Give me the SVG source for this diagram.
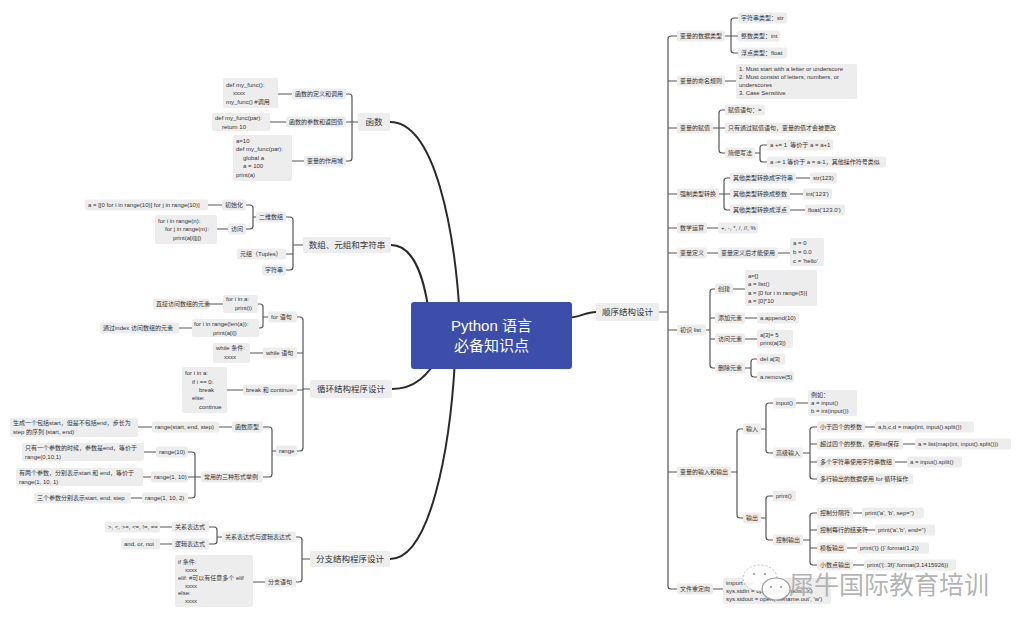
<svg xmlns="http://www.w3.org/2000/svg" width="1024" height="630" viewBox="0 0 1024 630">
<style>
.c{fill:none;stroke:#555;stroke-width:1.2;stroke-linecap:round}
.m{fill:none;stroke:#2a2a2a;stroke-width:2;stroke-linecap:round}
.b{fill:#ededed}
.t{font-family:"Liberation Sans","Noto Sans CJK SC",sans-serif;font-size:6px;fill:#333}
.h{font-family:"Noto Sans CJK SC","Liberation Sans",sans-serif;font-size:8.5px;fill:#333;text-anchor:middle}
.w{font-family:"Noto Sans CJK SC",sans-serif;font-size:25px;fill:#a6a6a6;fill-opacity:0.85}
</style>
<rect width="1024" height="630" fill="#fff"/>
<g id="connectors">
<path class="m" d="M390,122C435,122 455,230 460,320"/>
<path class="m" d="M391,245C415,245 425,280 430,320"/>
<path class="m" d="M392,389C415,389 428,375 440,355"/>
<path class="m" d="M390,559C430,559 450,450 455,360"/>
<path class="m" d="M565,318C580,318 585,312 596,312"/>
<path class="c" d="M358,122H352M346,94H349Q352,94 352,97V158Q352,161 349,161H346M346,122H352M278,94H292M270,122H286M292,161H304"/>
<path class="c" d="M303,245H293M286,217H290Q293,217 293,220V267Q293,270 290,270H286M286,254H293M256,217H253M246,205H250Q253,205 253,208V226Q253,229 250,229H246M208,205H222M217,229H228"/>
<path class="c" d="M310,389H303M297,317H300Q303,317 303,320V448Q303,451 300,451H297M297,353H303M297,390H303M268,317H263M258,304H260Q263,304 263,307V325Q263,328 260,328H259M209,304H223M179,328H192M250,353H263M227,390H243M276,451H272M263,427H269Q272,427 272,430V474Q272,477 269,477H263M219,427H232M138,427H152M201,477H188M188,452H192Q195,452 195,455V495Q195,498 192,498H188M144,452H156M143,477H151M131,498H142"/>
<path class="c" d="M310,559H302M296,537H299Q302,537 302,540V579Q302,582 299,582H296M222,537H217M209,527H214Q217,527 217,530V541Q217,544 214,544H209M160,527H172M160,544H172M253,582H265"/>
<path class="c" d="M659,312H668M677,36H671Q668,36 668,39V586Q668,589 671,589H677M668,81H677M668,128H677M668,194H677M668,228H677M668,253H677M668,330H677M668,472H677"/>
<path class="c" d="M725,36H738M738,18H734Q731,18 731,21V50Q731,53 734,53H738M725,81H736"/>
<path class="c" d="M713,128H725M725,110H722Q719,110 719,113V150Q719,153 722,153H725M755,153H760M767,145H763Q760,145 760,148V159Q760,162 763,162H767"/>
<path class="c" d="M719,194H730M730,178H727Q724,178 724,181V207Q724,210 727,210H730M796,178H810M790,194H803M790,210H805M707,228H718M707,253H718M778,253H790"/>
<path class="c" d="M706,330H710M715,289H713Q710,289 710,292V365Q710,368 713,368H715M710,318H715M710,339H715M733,289H745M745,318H757M745,339H757M745,368H751M757,359H754Q751,359 751,362V374Q751,377 754,377H757"/>
<path class="c" d="M731,472H737M743,429H740Q737,429 737,432V515Q737,518 740,518H743M761,429H766M773,403H769Q766,403 766,406V450Q766,453 769,453H773M796,403H808M803,453H810M817,427H813Q810,427 810,430V476Q810,479 813,479H817M810,444H817M810,462H817M865,427H875M903,444H915M895,462H907"/>
<path class="c" d="M761,518H766M773,496H769Q766,496 766,499V537Q766,540 769,540H773M803,540H810M817,513H813Q810,513 810,516V562Q810,565 813,565H817M810,530H817M810,548H817M853,513H862M865,530H875M847,548H857M853,565H864M713,589H723"/>
</g>
<g id="center"><rect x="411" y="302" width="161" height="67" rx="3" fill="#3d4eaa"/><text x="491.5" y="331" font-family="Liberation Sans,Noto Sans CJK SC,sans-serif" font-size="15" fill="#fff" text-anchor="middle">Python 语言</text><text x="491.5" y="351" font-family="Noto Sans CJK SC,sans-serif" font-size="15" fill="#fff" text-anchor="middle">必备知识点</text></g>
<g id="hanshu"><rect class="b" x="358" y="113" width="32" height="18" rx="2"/><text class="h" x="374" y="125">函数</text></g>
<g id="hs1"><rect class="b" x="292" y="88.5" width="54" height="11" rx="2"/><text class="t" x="295" y="96.1">函数的定义和调用</text></g>
<g id="hs1c"><rect class="b" x="223" y="78" width="55" height="30" rx="2"/><text class="t" x="226" y="87">def my_func():</text><text class="t" x="233" y="95">xxxx</text><text class="t" x="226" y="104">my_func()  #调用</text></g>
<g id="hs2"><rect class="b" x="286" y="116.5" width="60" height="11" rx="2"/><text class="t" x="289" y="124.1">函数的参数和返回值</text></g>
<g id="hs2c"><rect class="b" x="212" y="113" width="58" height="18" rx="2"/><text class="t" x="215" y="120">def my_func(par):</text><text class="t" x="222" y="129">return 10</text></g>
<g id="hs3"><rect class="b" x="304" y="155.5" width="42" height="11" rx="2"/><text class="t" x="307" y="163.1">变量的作用域</text></g>
<g id="hs3c"><rect class="b" x="233" y="135" width="59" height="46" rx="2"/><text class="t" x="236" y="143">a=10</text><text class="t" x="236" y="151">def my_func(par):</text><text class="t" x="243" y="160">global a</text><text class="t" x="243" y="168">a = 100</text><text class="t" x="236" y="177">print(a)</text></g>
<g id="shuzu"><rect class="b" x="303" y="237" width="88" height="16" rx="2"/><text class="h" x="347" y="248">数组、元组和字符串</text></g>
<g id="sz1"><rect class="b" x="256" y="211.5" width="30" height="11" rx="2"/><text class="t" x="259" y="219.1">二维数组</text></g>
<g id="sz1a"><rect class="b" x="222" y="199.5" width="24" height="11" rx="2"/><text class="t" x="225" y="207.1">初始化</text></g>
<g id="sz1ac"><rect class="b" x="85" y="199.5" width="123" height="11" rx="2"/><text class="t" x="88" y="207.1">a = [[0 for i in range(10)] for j in range(10)]</text></g>
<g id="sz1b"><rect class="b" x="228" y="223.5" width="18" height="11" rx="2"/><text class="t" x="231" y="231.1">访问</text></g>
<g id="sz1bc"><rect class="b" x="155" y="215" width="62" height="29" rx="2"/><text class="t" x="158" y="223">for i in range(n):</text><text class="t" x="165" y="231">for j in range(m):</text><text class="t" x="173" y="240">print(a[i][j])</text></g>
<g id="sz2"><rect class="b" x="237" y="248.5" width="49" height="11" rx="2"/><text class="t" x="240" y="256.1">元组（Tuples）</text></g>
<g id="sz3"><rect class="b" x="262" y="264.5" width="24" height="11" rx="2"/><text class="t" x="265" y="272.1">字符串</text></g>
<g id="xunhuan"><rect class="b" x="310" y="380" width="82" height="18" rx="2"/><text class="h" x="351" y="392">循环结构程序设计</text></g>
<g id="xh1"><rect class="b" x="268" y="311.5" width="29" height="11" rx="2"/><text class="t" x="271" y="319.1">for 语句</text></g>
<g id="xh1a"><rect class="b" x="223" y="295" width="35" height="18" rx="2"/><text class="t" x="226" y="301">for i in a:</text><text class="t" x="235" y="310">print(i)</text></g>
<g id="xh1at"><rect class="b" x="153" y="298.5" width="56" height="11" rx="2"/><text class="t" x="156" y="306.1">直接访问数组的元素</text></g>
<g id="xh1b"><rect class="b" x="192" y="319" width="67" height="18" rx="2"/><text class="t" x="194" y="326">for i in range(len(a)):</text><text class="t" x="213" y="335">print(a[i])</text></g>
<g id="xh1bt"><rect class="b" x="100" y="322.5" width="79" height="11" rx="2"/><text class="t" x="103" y="330.1">通过index 访问数组的元素</text></g>
<g id="xh2"><rect class="b" x="263" y="347.5" width="34" height="11" rx="2"/><text class="t" x="266" y="355.1">while 语句</text></g>
<g id="xh2c"><rect class="b" x="213" y="343" width="37" height="20" rx="2"/><text class="t" x="216" y="350">while 条件:</text><text class="t" x="224" y="359">xxxx</text></g>
<g id="xh3"><rect class="b" x="243" y="384.5" width="54" height="11" rx="2"/><text class="t" x="246" y="392.1">break 和 continue</text></g>
<g id="xh3c"><rect class="b" x="182" y="367" width="45" height="46" rx="2"/><text class="t" x="185" y="375">for i in a:</text><text class="t" x="192" y="384">if i == 0:</text><text class="t" x="199" y="392">break</text><text class="t" x="192" y="400">else:</text><text class="t" x="199" y="409">continue</text></g>
<g id="xh4"><rect class="b" x="276" y="445.5" width="21" height="11" rx="2"/><text class="t" x="279" y="453.1">range</text></g>
<g id="xh4a"><rect class="b" x="232" y="421.5" width="31" height="11" rx="2"/><text class="t" x="235" y="429.1">函数原型</text></g>
<g id="xh4ac"><rect class="b" x="152" y="421.5" width="67" height="11" rx="2"/><text class="t" x="155" y="429.1">range(start, end, step)</text></g>
<g id="xh4at"><rect class="b" x="10" y="418" width="128" height="19" rx="2"/><text class="t" x="13" y="425">生成一个包括start，但是不包括end，步长为</text><text class="t" x="13" y="434">step 的序列 [start, end)</text></g>
<g id="xh4b"><rect class="b" x="201" y="471.5" width="62" height="11" rx="2"/><text class="t" x="204" y="479.1">常用的三种形式举例</text></g>
<g id="xh4b1"><rect class="b" x="156" y="446.5" width="32" height="11" rx="2"/><text class="t" x="159" y="454.1">range(10)</text></g>
<g id="xh4b1t"><rect class="b" x="22" y="443" width="122" height="18" rx="2"/><text class="t" x="25" y="450">只有一个参数的时候，参数是end，等价于</text><text class="t" x="25" y="459">range(0,10,1)</text></g>
<g id="xh4b2"><rect class="b" x="151" y="471.5" width="37" height="11" rx="2"/><text class="t" x="154" y="479.1">range(1, 10)</text></g>
<g id="xh4b2t"><rect class="b" x="16" y="468" width="127" height="18" rx="2"/><text class="t" x="19" y="475">有两个参数，分别表示start 和 end，等价于</text><text class="t" x="19" y="484">range(1, 10, 1)</text></g>
<g id="xh4b3"><rect class="b" x="142" y="492.5" width="46" height="11" rx="2"/><text class="t" x="145" y="500.1">range(1, 10, 2)</text></g>
<g id="xh4b3t"><rect class="b" x="34" y="492.5" width="97" height="11" rx="2"/><text class="t" x="37" y="500.1">三个参数分别表示start, end, step</text></g>
<g id="fenzhi"><rect class="b" x="310" y="551" width="80" height="16" rx="2"/><text class="h" x="350" y="562">分支结构程序设计</text></g>
<g id="fz1"><rect class="b" x="222" y="531.5" width="74" height="11" rx="2"/><text class="t" x="225" y="539.1">关系表达式与逻辑表达式</text></g>
<g id="fz1a"><rect class="b" x="172" y="521.5" width="37" height="11" rx="2"/><text class="t" x="175" y="529.1">关系表达式</text></g>
<g id="fz1ac"><rect class="b" x="105" y="521.5" width="55" height="11" rx="2"/><text class="t" x="108" y="529.1">&gt;, &lt;, &gt;=, &lt;=, !=, ==</text></g>
<g id="fz1b"><rect class="b" x="172" y="538.5" width="37" height="11" rx="2"/><text class="t" x="175" y="546.1">逻辑表达式</text></g>
<g id="fz1bc"><rect class="b" x="121" y="538.5" width="39" height="11" rx="2"/><text class="t" x="124" y="546.1">and, or, not</text></g>
<g id="fz2"><rect class="b" x="265" y="576.5" width="31" height="11" rx="2"/><text class="t" x="268" y="584.1">分支语句</text></g>
<g id="fz2c"><rect class="b" x="175" y="555" width="78" height="52" rx="2"/><text class="t" x="178" y="564">if 条件:</text><text class="t" x="185" y="572">xxxx</text><text class="t" x="178" y="580">elif: #可以有任意多个 elif</text><text class="t" x="185" y="588">xxxx</text><text class="t" x="178" y="595">else:</text><text class="t" x="185" y="603">xxxx</text></g>
<g id="shunxu"><rect class="b" x="596" y="303" width="63" height="18" rx="2"/><text class="h" x="627.5" y="315">顺序结构设计</text></g>
<g id="sx1"><rect class="b" x="677" y="30.5" width="48" height="11" rx="2"/><text class="t" x="680" y="38.1">变量的数据类型</text></g>
<g id="sx1a"><rect class="b" x="738" y="12.5" width="49" height="11" rx="2"/><text class="t" x="741" y="20.1">字符串类型：str</text></g>
<g id="sx1b"><rect class="b" x="738" y="30.5" width="42" height="11" rx="2"/><text class="t" x="741" y="38.1">整数类型：int</text></g>
<g id="sx1c"><rect class="b" x="738" y="47.5" width="49" height="11" rx="2"/><text class="t" x="741" y="55.1">浮点类型：float</text></g>
<g id="sx2"><rect class="b" x="677" y="75.5" width="48" height="11" rx="2"/><text class="t" x="680" y="83.1">变量的命名规则</text></g>
<g id="sx2c"><rect class="b" x="736" y="64" width="121" height="35" rx="2"/><text class="t" x="739" y="71">1. Must start with a letter or underscore</text><text class="t" x="739" y="79">2. Must consist of letters, numbers, or</text><text class="t" x="739" y="87">underscores</text><text class="t" x="739" y="95">3. Case Sensitive</text></g>
<g id="sx3"><rect class="b" x="677" y="122.5" width="36" height="11" rx="2"/><text class="t" x="680" y="130.1">变量的赋值</text></g>
<g id="sx3a"><rect class="b" x="725" y="104.5" width="40" height="11" rx="2"/><text class="t" x="728" y="112.1">赋值语句：=</text></g>
<g id="sx3b"><rect class="b" x="725" y="122.5" width="108" height="11" rx="2"/><text class="t" x="728" y="130.1">只有通过赋值语句，变量的值才会被更改</text></g>
<g id="sx3c"><rect class="b" x="725" y="147.5" width="30" height="11" rx="2"/><text class="t" x="728" y="155.1">简便写法</text></g>
<g id="sx3c1"><rect class="b" x="767" y="139.5" width="66" height="11" rx="2"/><text class="t" x="770" y="147.1" xml:space="preserve">a += 1  等价于 a = a+1</text></g>
<g id="sx3c2"><rect class="b" x="767" y="156.5" width="119" height="11" rx="2"/><text class="t" x="770" y="164.1">a -= 1 等价于 a = a-1，其他操作符号类似</text></g>
<g id="sx4"><rect class="b" x="677" y="188.5" width="42" height="11" rx="2"/><text class="t" x="680" y="196.1">强制类型转换</text></g>
<g id="sx4a"><rect class="b" x="730" y="172.5" width="66" height="11" rx="2"/><text class="t" x="733" y="180.1">其他类型转换成字符串</text></g>
<g id="sx4ac"><rect class="b" x="810" y="172.5" width="27" height="11" rx="2"/><text class="t" x="813" y="180.1">str(123)</text></g>
<g id="sx4b"><rect class="b" x="730" y="188.5" width="60" height="11" rx="2"/><text class="t" x="733" y="196.1">其他类型转换成整数</text></g>
<g id="sx4bc"><rect class="b" x="803" y="188.5" width="29" height="11" rx="2"/><text class="t" x="806" y="196.1">int('123')</text></g>
<g id="sx4c"><rect class="b" x="730" y="204.5" width="60" height="11" rx="2"/><text class="t" x="733" y="212.1">其他类型转换成浮点</text></g>
<g id="sx4cc"><rect class="b" x="805" y="204.5" width="40" height="11" rx="2"/><text class="t" x="808" y="212.1">float('123.0')</text></g>
<g id="sx5"><rect class="b" x="677" y="222.5" width="30" height="11" rx="2"/><text class="t" x="680" y="230.1">数学运算</text></g>
<g id="sx5c"><rect class="b" x="718" y="222.5" width="40" height="11" rx="2"/><text class="t" x="721" y="230.1">+, -, *, /, //, %</text></g>
<g id="sx6"><rect class="b" x="677" y="247.5" width="30" height="11" rx="2"/><text class="t" x="680" y="255.1">变量定义</text></g>
<g id="sx6a"><rect class="b" x="718" y="247.5" width="60" height="11" rx="2"/><text class="t" x="721" y="255.1">变量定义后才能使用</text></g>
<g id="sx6c"><rect class="b" x="790" y="238" width="34" height="28" rx="2"/><text class="t" x="793" y="245">a = 0</text><text class="t" x="793" y="254">b = 0.0</text><text class="t" x="793" y="263">c = 'hello'</text></g>
<g id="sx7"><rect class="b" x="677" y="324.5" width="29" height="11" rx="2"/><text class="t" x="680" y="332.1">初识 list</text></g>
<g id="sx7a"><rect class="b" x="715" y="283.5" width="18" height="11" rx="2"/><text class="t" x="718" y="291.1">创建</text></g>
<g id="sx7ac"><rect class="b" x="745" y="270" width="72" height="36" rx="2"/><text class="t" x="748" y="278">a=[]</text><text class="t" x="748" y="286">a = list()</text><text class="t" x="748" y="295">a = [0 for i in range(5)]</text><text class="t" x="748" y="303">a = [0]*10</text></g>
<g id="sx7b"><rect class="b" x="715" y="312.5" width="30" height="11" rx="2"/><text class="t" x="718" y="320.1">添加元素</text></g>
<g id="sx7bc"><rect class="b" x="757" y="312.5" width="42" height="11" rx="2"/><text class="t" x="760" y="320.1">a.append(10)</text></g>
<g id="sx7c"><rect class="b" x="715" y="333.5" width="30" height="11" rx="2"/><text class="t" x="718" y="341.1">访问元素</text></g>
<g id="sx7cc"><rect class="b" x="757" y="330" width="36" height="18" rx="2"/><text class="t" x="760" y="337">a[3]= 5</text><text class="t" x="760" y="345">print(a[3])</text></g>
<g id="sx7d"><rect class="b" x="715" y="362.5" width="30" height="11" rx="2"/><text class="t" x="718" y="370.1">删除元素</text></g>
<g id="sx7d1"><rect class="b" x="757" y="353.5" width="28" height="11" rx="2"/><text class="t" x="760" y="361.1">del a[3]</text></g>
<g id="sx7d2"><rect class="b" x="757" y="371.5" width="37" height="11" rx="2"/><text class="t" x="760" y="379.1">a.remove(5)</text></g>
<g id="sx8"><rect class="b" x="677" y="466.5" width="54" height="11" rx="2"/><text class="t" x="680" y="474.1">变量的输入和输出</text></g>
<g id="sx8a"><rect class="b" x="743" y="423.5" width="18" height="11" rx="2"/><text class="t" x="746" y="431.1">输入</text></g>
<g id="sx8a1"><rect class="b" x="773" y="397.5" width="23" height="11" rx="2"/><text class="t" x="776" y="405.1">input()</text></g>
<g id="sx8a1c"><rect class="b" x="808" y="390" width="49" height="26" rx="2"/><text class="t" x="811" y="397">例如：</text><text class="t" x="811" y="405">a = input()</text><text class="t" x="811" y="413">b = int(input())</text></g>
<g id="sx8a2"><rect class="b" x="773" y="447.5" width="30" height="11" rx="2"/><text class="t" x="776" y="455.1">高级输入</text></g>
<g id="sx8a2a"><rect class="b" x="817" y="421.5" width="48" height="11" rx="2"/><text class="t" x="820" y="429.1">小于四个的整数</text></g>
<g id="sx8a2ac"><rect class="b" x="875" y="421.5" width="99" height="11" rx="2"/><text class="t" x="878" y="429.1">a,b,c,d = map(int, input().split())</text></g>
<g id="sx8a2b"><rect class="b" x="817" y="438.5" width="86" height="11" rx="2"/><text class="t" x="820" y="446.1">超过四个的整数，使用list保存</text></g>
<g id="sx8a2bc"><rect class="b" x="915" y="438.5" width="96" height="11" rx="2"/><text class="t" x="918" y="446.1">a = list(map(int, input().split()))</text></g>
<g id="sx8a2c"><rect class="b" x="817" y="456.5" width="78" height="11" rx="2"/><text class="t" x="820" y="464.1">多个字符串使用字符串数组</text></g>
<g id="sx8a2cc"><rect class="b" x="907" y="456.5" width="55" height="11" rx="2"/><text class="t" x="910" y="464.1">a = input().split()</text></g>
<g id="sx8a2d"><rect class="b" x="817" y="473.5" width="96" height="11" rx="2"/><text class="t" x="820" y="481.1">多行输出的数据使用 for 循环操作</text></g>
<g id="sx8b"><rect class="b" x="743" y="512.5" width="18" height="11" rx="2"/><text class="t" x="746" y="520.1">输出</text></g>
<g id="sx8b1"><rect class="b" x="773" y="490.5" width="23" height="11" rx="2"/><text class="t" x="776" y="498.1">print()</text></g>
<g id="sx8b2"><rect class="b" x="773" y="534.5" width="30" height="11" rx="2"/><text class="t" x="776" y="542.1">控制输出</text></g>
<g id="sx8b2a"><rect class="b" x="817" y="507.5" width="36" height="11" rx="2"/><text class="t" x="820" y="515.1">控制分隔符</text></g>
<g id="sx8b2ac"><rect class="b" x="862" y="507.5" width="62" height="11" rx="2"/><text class="t" x="865" y="515.1">print('a', 'b', sep='')</text></g>
<g id="sx8b2b"><rect class="b" x="817" y="524.5" width="48" height="11" rx="2"/><text class="t" x="820" y="532.1">控制每行的结束符</text></g>
<g id="sx8b2bc"><rect class="b" x="875" y="524.5" width="60" height="11" rx="2"/><text class="t" x="878" y="532.1">print('a','b', end='')</text></g>
<g id="sx8b2c"><rect class="b" x="817" y="542.5" width="30" height="11" rx="2"/><text class="t" x="820" y="550.1">模板输出</text></g>
<g id="sx8b2cc"><rect class="b" x="857" y="542.5" width="72" height="11" rx="2"/><text class="t" x="860" y="550.1">print('{} {}'.format(1,2))</text></g>
<g id="sx8b2d"><rect class="b" x="817" y="559.5" width="36" height="11" rx="2"/><text class="t" x="820" y="567.1">小数点输出</text></g>
<g id="sx8b2dc"><rect class="b" x="864" y="559.5" width="92" height="11" rx="2"/><text class="t" x="867" y="567.1">print('{:.3f}'.format(3.1415926))</text></g>
<g id="sx9"><rect class="b" x="677" y="583.5" width="36" height="11" rx="2"/><text class="t" x="680" y="591.1">文件重定向</text></g>
<g id="sx9c"><rect class="b" x="723" y="578" width="108" height="26" rx="2"/><text class="t" x="726" y="585">import sys</text><text class="t" x="726" y="593">sys.stdin = open('filename.in', 'r')</text><text class="t" x="726" y="601">sys.stdout = open('filename.out', 'w')</text></g>
<g id="watermark">
<ellipse cx="760" cy="578" rx="17" ry="13" fill="#fff" fill-opacity="0.9" stroke="#bbb" stroke-width="1" stroke-dasharray="2 2"/>
<ellipse cx="776" cy="589" rx="14" ry="11" fill="#fff" fill-opacity="0.9" stroke="#999" stroke-width="1.2"/>
<circle cx="754" cy="574" r="1.2" fill="#aaa"/><circle cx="765" cy="574" r="1.2" fill="#aaa"/>
<circle cx="771" cy="587" r="1.1" fill="#999"/><circle cx="781" cy="587" r="1.1" fill="#999"/>
<text class="w" x="789" y="594">犀牛国际教育培训</text>
</g>
</svg>
